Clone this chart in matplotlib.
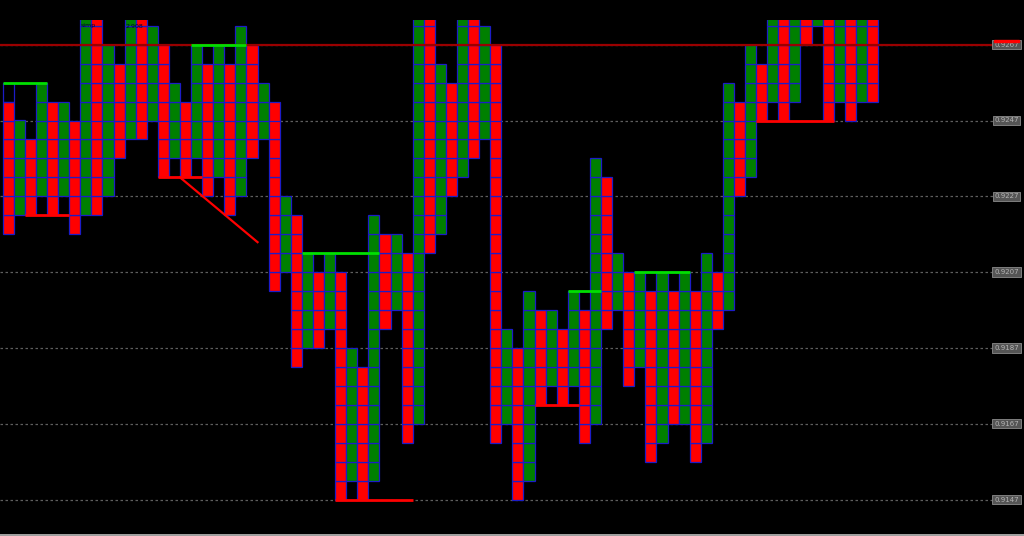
import matplotlib
matplotlib.use("Agg")
import matplotlib.pyplot as plt
import matplotlib.transforms as mtransforms
from matplotlib.patches import Rectangle

box_size = 0.0005

# column colours (r = down column, g = up column)
col_color = ["r", "g"] * 39 + ["r"]

col_high = [0.9252, 0.9247, 0.9242, 0.9257, 0.9252, 0.9252, 0.9247, 0.9282, 0.9282, 0.9267,
            0.9262, 0.9282, 0.9282, 0.9272, 0.9267, 0.9257, 0.9252, 0.9267, 0.9262, 0.9267,
            0.9262, 0.9272, 0.9267, 0.9257, 0.9252, 0.9227, 0.9222, 0.9212, 0.9207, 0.9212,
            0.9207, 0.9187, 0.9182, 0.9222, 0.9217, 0.9217, 0.9212, 0.9282, 0.9282, 0.9262,
            0.9257, 0.9282, 0.9282, 0.9272, 0.9267, 0.9192, 0.9187, 0.9202, 0.9197, 0.9197,
            0.9192, 0.9202, 0.9197, 0.9237, 0.9232, 0.9212, 0.9207, 0.9207, 0.9202, 0.9207,
            0.9202, 0.9207, 0.9202, 0.9212, 0.9207, 0.9257, 0.9252, 0.9267, 0.9262, 0.9282,
            0.9282, 0.9282, 0.9282, 0.9282, 0.9282, 0.9282, 0.9282, 0.9282, 0.9282]

col_low = [0.9217, 0.9222, 0.9222, 0.9227, 0.9222, 0.9227, 0.9217, 0.9222, 0.9222, 0.9227,
           0.9237, 0.9242, 0.9242, 0.9247, 0.9232, 0.9237, 0.9232, 0.9237, 0.9227, 0.9232,
           0.9222, 0.9227, 0.9237, 0.9242, 0.9202, 0.9207, 0.9182, 0.9187, 0.9187, 0.9192,
           0.9147, 0.9152, 0.9147, 0.9152, 0.9192, 0.9197, 0.9162, 0.9167, 0.9212, 0.9217,
           0.9227, 0.9232, 0.9237, 0.9242, 0.9162, 0.9167, 0.9147, 0.9152, 0.9172, 0.9177,
           0.9172, 0.9177, 0.9162, 0.9167, 0.9192, 0.9197, 0.9177, 0.9182, 0.9157, 0.9162,
           0.9167, 0.9167, 0.9157, 0.9162, 0.9192, 0.9197, 0.9227, 0.9232, 0.9247, 0.9252,
           0.9247, 0.9252, 0.9267, 0.9272, 0.9247, 0.9252, 0.9247, 0.9252, 0.9252]

# price scale labels
label_prices = [0.9267, 0.9247, 0.9227, 0.9207, 0.9187, 0.9167, 0.9147]
label_texts = ["0.9267", "0.9247", "0.9227", "0.9207", "0.9187", "0.9167", "0.9147"]
bid_price = 0.9267

# resistance (green) / support (red) lines: start column, end column, price
green_start = [0, 17, 27, 51, 57]
green_end = [4, 22, 34, 54, 62]
green_price = [0.9257, 0.9267, 0.9212, 0.9202, 0.9207]

red_start = [2, 14, 30, 48, 68]
red_end = [6, 18, 37, 52, 75]
red_price = [0.9222, 0.9232, 0.9147, 0.9172, 0.9247]

# trend line (column, price)
trend_x = [16, 23]
trend_y = [0.9232, 0.92149]

# pixel layout helpers
W, H = 1024, 536
px0, colw = 2.7, 11.08        # first column left edge, column width in px
py0, boxh = 499.5, 18.95      # pixel row of 0.9147, box height in px
top_px = 20


def price_at(py):
    return 0.9147 + (py0 - py) / boxh * box_size


fig = plt.figure(figsize=(W / 100, H / 100), dpi=100, facecolor="black")
ax = fig.add_axes([0, 0, 1, (H - top_px) / H])
ax.set_facecolor("black")
ax.set_xlim(-px0 / colw, (W - px0) / colw)
ax.set_ylim(price_at(H), price_at(top_px))
ax.axis("off")

trans = mtransforms.blended_transform_factory(ax.transAxes, ax.transData)

# grid lines
for p in label_prices:
    ax.axhline(p, xmin=0, xmax=993 / W, color="#5e5e5e", ls=(0, (2, 2)), lw=0.9, zorder=1)

# boxes
xs, bs, cs = [], [], []
for i in range(len(col_color)):
    n = int(round((col_high[i] - col_low[i]) / box_size))
    for j in range(n):
        xs.append(i)
        bs.append(col_low[i] + j * box_size)
        cs.append("#ff0000" if col_color[i] == "r" else "#008000")
ax.bar(xs, box_size, bottom=bs, width=1, align="edge", color=cs,
       edgecolor="#1c1cc8", linewidth=0.9, zorder=2)

ax.add_patch(Rectangle((0, 0.9252), 1, box_size, fill=False, ec="#1c1cc8", lw=0.9, zorder=2))

# bid line
ax.axhline(bid_price, xmin=0, xmax=993 / W, color="#9a0000", lw=1.6, zorder=3)

ax.hlines(green_price, green_start, green_end, colors="#00e000", lw=2, zorder=4)
ax.hlines(red_price, red_start, red_end, colors="#ff0000", lw=2, zorder=4)
ax.plot(trend_x, trend_y, color="#ff0000", lw=1.6, zorder=4)

# price labels
for p, t in zip(label_prices, label_texts):
    ax.text(1006.5 / W, p, t, transform=trans, fontsize=5, color="#b4b4b4",
            ha="center", va="center", zorder=5,
            bbox=dict(boxstyle="square,pad=0.25", fc="#555555", ec="#8c8c8c", lw=0.6))

fig.patches.append(Rectangle((994 / W, 1 - 42 / H), 25 / W, 2.2 / H,
                             transform=fig.transFigure, color="#ff0000"))

# small object labels at top
fig.text(81 / W, 1 - 26 / H, "simp", fontsize=4.5, color="#000030", va="center")
fig.text(126 / W, 1 - 26 / H, "2.908", fontsize=4.5, color="#000030", va="center")

# bottom border
fig.add_artist(plt.Line2D([0, 1], [0.6 / H, 0.6 / H], transform=fig.transFigure,
                          color="#c0c0c0", lw=1.2))

fig.savefig("out.png", dpi=100, facecolor="black")
